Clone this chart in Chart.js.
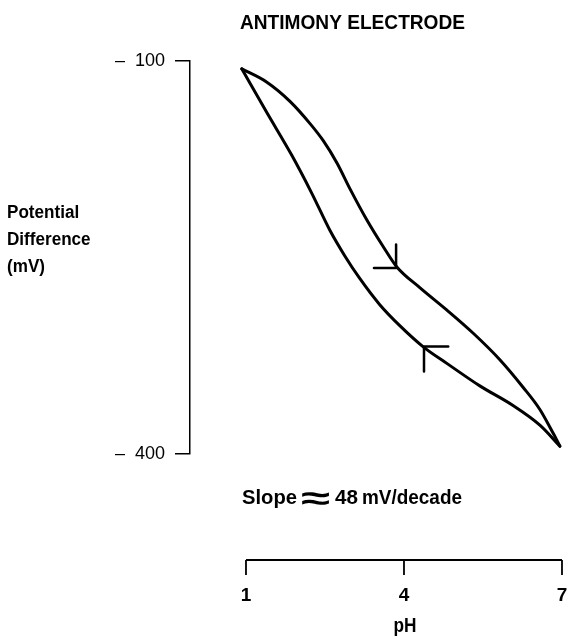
<!DOCTYPE html>
<html><head><meta charset="utf-8">
<script src="https://cdn.jsdelivr.net/npm/chart.js@4.4.1/dist/chart.umd.min.js"></script>
<style>html,body{margin:0;padding:0;background:#fff;}#wrap{width:572px;height:643px;}</style>
</head><body><div id="wrap"><canvas id="c" width="572" height="643"></canvas></div>
<script>
// ---- text ----
const titleText = 'ANTIMONY ELECTRODE';
const yTitleLines = ['Potential', 'Difference', '(mV)'];
const xTitle = 'pH';
const slopeWord = 'Slope';
const slopeSign = '\u2248';
const slopeNumber = '48';
const slopeUnit = 'mV/decade';
// ---- ticks ----
const xTicks = [1, 4, 7];
const yTicks = [-100, -400];
// ---- data: forward sweep (upper branch, acid -> alkaline) ----
const forwardPH = [0.92, 1.39, 1.84, 2.22, 2.47, 2.73, 2.98, 3.29, 3.61, 3.86, 4.30, 4.81, 5.32, 5.82, 6.26, 6.58, 6.83, 6.96];
const forwardMV = [-106, -116, -131, -148, -161, -178, -198, -221, -242, -257, -273, -290, -308, -328, -349, -366, -384, -394];
// ---- data: reverse sweep (lower branch, alkaline -> acid) ----
const reversePH = [6.96, 6.58, 6.07, 5.44, 4.82, 4.36, 3.92, 3.54, 3.16, 2.88, 2.59, 2.25, 1.87, 1.39, 0.92];
const reverseMV = [-394, -378, -363, -348, -331, -318, -302, -286, -266, -249, -229, -201, -172, -139, -106];
// ---- direction arrowheads ----
const arrowDownPH = [3.43, 3.85, 3.85];
const arrowDownMV = [-258, -258, -240];
const arrowUpPH = [4.84, 4.38, 4.38];
const arrowUpMV = [-318, -318, -337];

const zip = (xs, ys) => xs.map((x, i) => ({x: x, y: ys[i]}));
const FONT = "'Liberation Sans', Arial, sans-serif";

const lineDs = (data, w, smooth) => ({
  data: data, showLine: true, pointRadius: 0, borderColor: '#000', backgroundColor: '#000',
  borderWidth: w, tension: smooth ? 0.4 : 0, cubicInterpolationMode: smooth ? 'monotone' : 'default',
  fill: false, clip: false, borderCapStyle: 'round', borderJoinStyle: 'round'
});

// draw text horizontally condensed (the original uses a narrow typeface)
function drawText(ctx, s, x, y, font, k, align) {
  ctx.font = font;
  ctx.save();
  ctx.translate(x, y);
  ctx.scale(k, 1);
  ctx.textAlign = align;
  ctx.textBaseline = 'middle';
  ctx.fillText(s, 0, 0);
  ctx.restore();
}
function fitText(ctx, s, x, y, font, w, align) {
  ctx.font = font;
  drawText(ctx, s, x, y, font, w / ctx.measureText(s).width, align);
}

const decor = {
  id: 'decor',
  afterDraw(chart) {
    const ctx = chart.ctx;
    const xs = chart.scales.x;
    ctx.save();
    ctx.fillStyle = '#000';
    ctx.strokeStyle = '#000';
    // title
    fitText(ctx, titleText, 240, 23, 'bold 21px ' + FONT, 225, 'left');
    // y-axis title
    yTitleLines.forEach((s, i) => drawText(ctx, s, 7, 213 + i * 27, 'bold 18px ' + FONT, 0.95, 'left'));
    // slope note
    fitText(ctx, slopeWord, 242, 498, 'bold 21px ' + FONT, 55, 'left');
    fitText(ctx, slopeSign, 301, 500, 'bold 32px ' + FONT, 29, 'left');
    fitText(ctx, slopeNumber, 335, 498, 'bold 21px ' + FONT, 23, 'left');
    fitText(ctx, slopeUnit, 362, 498, 'bold 21px ' + FONT, 100, 'left');
    // detached pH axis
    const ay = 560;
    const x0 = xs.getPixelForValue(xTicks[0]);
    const x1 = xs.getPixelForValue(xTicks[xTicks.length - 1]);
    ctx.lineWidth = 1.8;
    ctx.beginPath();
    ctx.moveTo(x0, ay); ctx.lineTo(x1, ay);
    xTicks.forEach(v => { const px = xs.getPixelForValue(v); ctx.moveTo(px, ay); ctx.lineTo(px, ay + 15); });
    ctx.stroke();
    xTicks.forEach(v => drawText(ctx, String(v), xs.getPixelForValue(v), 596, 'bold 19px ' + FONT, 1, 'center'));
    fitText(ctx, xTitle, xs.getPixelForValue(xTicks[1]) + 1, 626, 'bold 20px ' + FONT, 23, 'center');
    ctx.restore();
  }
};

new Chart(document.getElementById('c'), {
  type: 'scatter',
  data: {
    datasets: [
      lineDs(zip(forwardPH, forwardMV), 3, true),
      lineDs(zip(reversePH, reverseMV), 3, true),
      lineDs(zip(arrowDownPH, arrowDownMV), 2.5, false),
      lineDs(zip(arrowUpPH, arrowUpMV), 2.5, false)
    ]
  },
  options: {
    responsive: false,
    animation: false,
    devicePixelRatio: 1,
    layout: {padding: {top: 61, bottom: 189, left: 0, right: 0}},
    plugins: {legend: {display: false}, tooltip: {enabled: false}, title: {display: false}},
    scales: {
      x: {type: 'linear', min: -0.063, max: 7.19, display: false},
      y: {
        type: 'linear', position: 'left', min: yTicks[1], max: yTicks[0],
        afterFit(s) { s.width = 190; },
        afterBuildTicks(s) { s.ticks = yTicks.map(v => ({value: v})); },
        ticks: {
          color: '#000', padding: 10,
          font: {family: FONT, size: 18},
          callback: v => '\u2013  ' + Math.abs(v)
        },
        grid: {drawOnChartArea: false, drawTicks: true, tickLength: 15, color: '#000', lineWidth: 1.5},
        border: {display: true, color: '#000', width: 1.5}
      }
    }
  },
  plugins: [decor]
});
</script>
</body></html>
